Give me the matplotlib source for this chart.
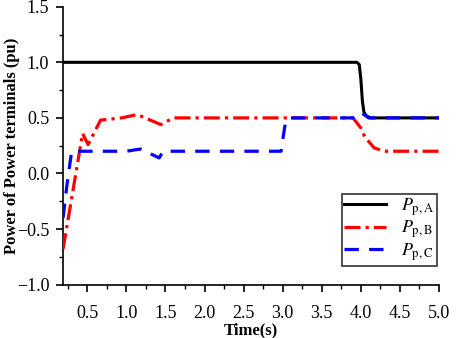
import matplotlib
matplotlib.use("Agg")
import matplotlib.pyplot as plt
from matplotlib.ticker import MultipleLocator, FuncFormatter

# Data
t_a = [0.19, 3.95, 3.98, 4.00, 4.02, 4.04, 4.07, 4.12, 5.0]
p_a = [1.0, 1.0, 0.98, 0.85, 0.65, 0.55, 0.52, 0.5, 0.5]

t_b = [0.19, 0.44, 0.51, 0.67, 0.94, 1.14, 1.44, 1.6, 3.9, 4.0, 4.05, 4.17, 4.3, 5.0]
p_b = [-0.68, 0.36, 0.26, 0.48, 0.5, 0.53, 0.44, 0.5, 0.5, 0.41, 0.33, 0.23, 0.2, 0.2]

t_c = [0.19, 0.24, 0.30, 1.0, 1.18, 1.42, 1.47, 2.98, 3.0, 3.04, 3.1, 3.9, 4.0, 4.1, 5.0]
p_c = [-0.4, -0.1, 0.2, 0.2, 0.22, 0.14, 0.2, 0.2, 0.3, 0.48, 0.5, 0.5, 0.55, 0.5, 0.5]

labels = [r"$P_{\mathrm{p,A}}$", r"$P_{\mathrm{p,B}}$", r"$P_{\mathrm{p,C}}$"]

plt.rcParams['mathtext.fontset'] = 'stix'
plt.rcParams['font.family'] = ['Liberation Serif', 'DejaVu Serif']

fig = plt.figure(figsize=(4.57, 3.38), dpi=100)
ax = fig.add_axes([0.138, 0.158, 0.8226, 0.822])

ax.plot(t_a, p_a, color='black', lw=2.2, label=labels[0], zorder=2)
ax.plot(t_b, p_b, color='red', lw=2.3, ls=(0, (5, 1.6, 1.0, 1.6)), label=labels[1], zorder=3)
ax.plot(t_c, p_c, color='blue', lw=2.3, ls=(0, (4.5, 3.2)), label=labels[2], zorder=4)

ax.set_xlim(0.19, 5.0)
ax.set_ylim(-1.0, 1.5)
ax.xaxis.set_major_locator(MultipleLocator(0.5))
ax.xaxis.set_minor_locator(MultipleLocator(0.25))
ax.yaxis.set_major_locator(MultipleLocator(0.5))
ax.yaxis.set_minor_locator(MultipleLocator(0.25))
fmt = FuncFormatter(lambda v, p: f"{v:.1f}".replace("-", "\u2212"))
ax.xaxis.set_major_formatter(fmt)
ax.yaxis.set_major_formatter(fmt)

for s in ['top', 'right']:
    ax.spines[s].set_visible(False)
for s in ['left', 'bottom']:
    ax.spines[s].set_linewidth(1.2)

ax.tick_params(which='major', direction='out', length=5, width=1.2, labelsize=13)
ax.tick_params(axis='x', which='major', pad=10)
ax.tick_params(axis='y', which='major', pad=5)
ax.tick_params(which='minor', direction='out', length=3, width=1.0)

ax.set_xlabel("Time(s)", fontsize=12, fontweight='bold')
ax.set_ylabel("Power of Power terminals (pu)", fontsize=12, fontweight='bold')
ax.xaxis.set_label_coords(0.5, -0.135)
ax.yaxis.set_label_coords(-0.115, 0.5)

leg = ax.legend(loc='lower right', bbox_to_anchor=(0.995, 0.068), fontsize=13, frameon=True, fancybox=False,
                edgecolor='black', handlelength=2.3, borderpad=0.15, labelspacing=0.05, handletextpad=0.85,
                borderaxespad=0)
leg.get_frame().set_linewidth(1.2)

fig.savefig("out.png", dpi=100)
